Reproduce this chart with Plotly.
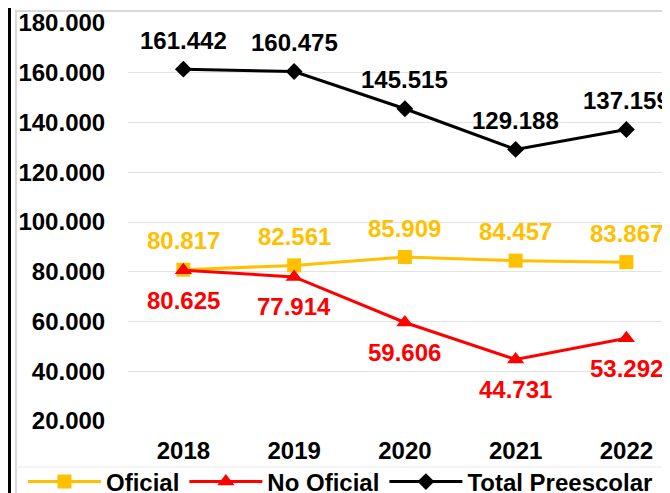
import plotly.graph_objects as go

# data
years = ["2018", "2019", "2020", "2021", "2022"]
oficial = [80817, 82561, 85909, 84457, 83867]
no_oficial = [80625, 77914, 59606, 44731, 53292]
total = [161442, 160475, 145515, 129188, 137159]
y_ticks = [20000, 40000, 60000, 80000, 100000, 120000, 140000, 160000, 180000]

FONT = "Liberation Sans, Arial, sans-serif"
YELLOW = "#FFC000"
RED = "#FF0000"
BLACK = "#000000"
FS = 24

# the page body adds an 8px margin, so the figure is laid out in window pixels minus 8
OFF = 8
W, H = 670 - OFF, 493 - OFF
L, T, B = 128 - OFF, 23 - OFF, 493 - 421
PW, PH = W - L, H - T - B


def fmt(v):
    return f"{v:,}".replace(",", ".")


def px_x(px):
    # window pixel -> paper x
    return (px - OFF - L) / PW


def px_y(py):
    # window pixel -> paper y
    return (H - B - (py - OFF)) / PH


fig = go.Figure()

series = [
    ("Oficial", oficial, YELLOW, "square", 14),
    ("No Oficial", no_oficial, RED, "triangle-up", 15),
    ("Total Preescolar", total, BLACK, "diamond", 13),
]
for name, vals, col, sym, size in series:
    fig.add_trace(go.Scatter(
        x=list(range(len(years))), y=vals, name=name, mode="lines+markers",
        line=dict(color=col, width=3),
        marker=dict(symbol=sym, size=size, color=col),
        cliponaxis=False,
    ))

# data labels
annotations = []
for vals, col, shift in [(oficial, YELLOW, 29), (no_oficial, RED, -30), (total, BLACK, 29)]:
    for i, v in enumerate(vals):
        annotations.append(dict(
            x=i, y=v, xref="x", yref="y", text=fmt(v), showarrow=False,
            yshift=shift, font=dict(family=FONT, size=FS, color=col, weight="bold"),
        ))

# frame lines of the surrounding sheet
shapes = [
    dict(type="line", xref="paper", yref="paper", x0=px_x(9.5), x1=px_x(9.5), y0=px_y(0), y1=px_y(500),
         line=dict(color=BLACK, width=3)),
    dict(type="line", xref="paper", yref="paper", x0=px_x(16), x1=px_x(16), y0=px_y(10), y1=px_y(500),
         line=dict(color="#d9d9d9", width=2)),
    dict(type="line", xref="paper", yref="paper", x0=px_x(16), x1=px_x(680), y0=px_y(11), y1=px_y(11),
         line=dict(color="#d9d9d9", width=2)),
    dict(type="line", xref="paper", yref="paper", x0=px_x(16), x1=px_x(680), y0=px_y(467), y1=px_y(467),
         line=dict(color="#e8e8e8", width=1)),
]

fig.update_layout(
    width=W, height=H,
    margin=dict(l=L, r=0, t=T, b=B, autoexpand=False),
    paper_bgcolor="white", plot_bgcolor="white",
    font=dict(family=FONT, size=FS, color=BLACK, weight="bold"),
    showlegend=True,
    legend=dict(orientation="h", x=px_x(23), xanchor="left", y=px_y(482), yanchor="middle",
                font=dict(family=FONT, size=FS, color=BLACK, weight="bold"),
                itemwidth=73,
                bgcolor="rgba(0,0,0,0)"),
    annotations=annotations,
    shapes=shapes,
)
fig.update_xaxes(
    range=[-0.5, -0.5 + PW / 110.75],
    tickvals=list(range(len(years))), ticktext=years,
    ticks="outside", ticklen=8, tickcolor="rgba(0,0,0,0)",
    showgrid=False, zeroline=False, showline=False,
    tickfont=dict(family=FONT, size=FS, color=BLACK, weight="bold"),
)
fig.update_yaxes(
    range=[20000, 180000],
    tickvals=y_ticks, ticktext=[fmt(v) for v in y_ticks],
    ticks="outside", ticklen=17, tickcolor="rgba(0,0,0,0)",
    showgrid=True, gridcolor="#e3e3e3", gridwidth=1,
    zeroline=False, showline=False,
    tickfont=dict(family=FONT, size=FS, color=BLACK, weight="bold"),
)

fig.write_html("out.html")
